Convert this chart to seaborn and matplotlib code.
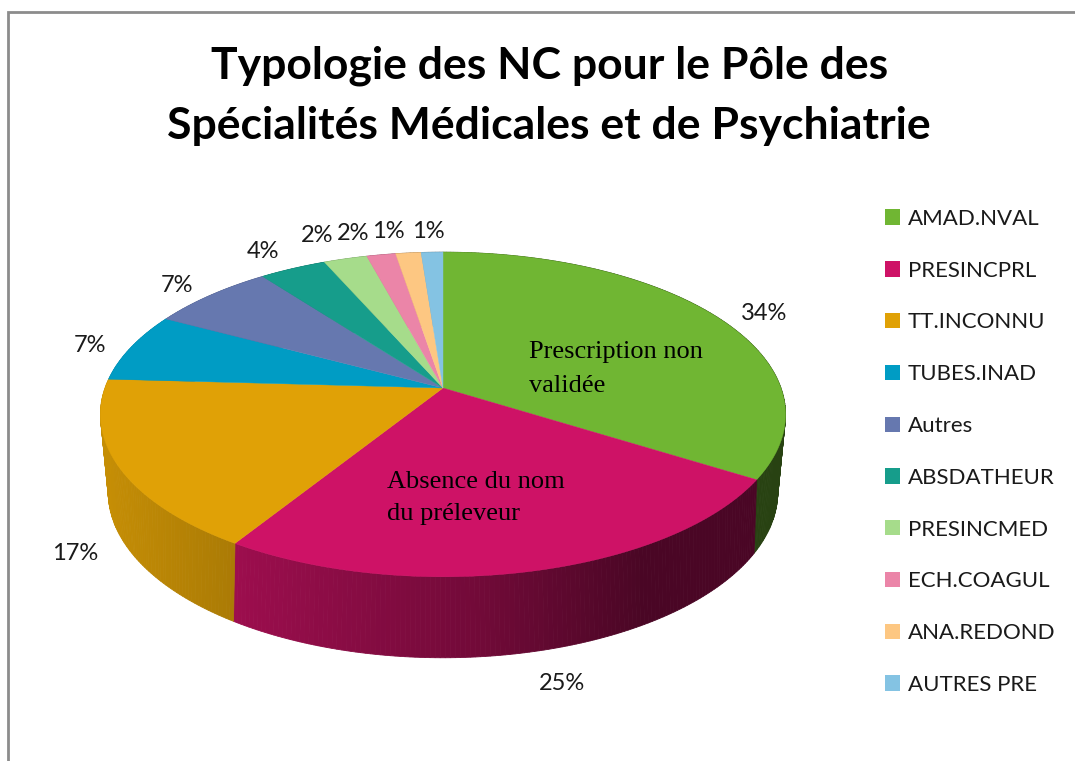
import numpy as np
import matplotlib
matplotlib.use("Agg")
import matplotlib.pyplot as plt
from matplotlib.patches import Patch
import seaborn as sns

# Values
categories = ["AMAD.NVAL", "PRESINCPRL", "TT.INCONNU", "TUBES.INAD", "Autres",
              "ABSDATHEUR", "PRESINCMED", "ECH.COAGUL", "ANA.REDOND", "AUTRES PRE"]
values = [33.9, 25.0, 17.0, 6.9, 6.9, 3.7, 2.4, 1.6, 1.4, 1.2]
pct_labels = ["34%", "25%", "17%", "7%", "7%", "4%", "2%", "2%", "1%", "1%"]
colors = ["#70B633", "#CE1266", "#E0A106", "#009CC4", "#6678AF",
          "#169D8B", "#A6DC8B", "#EB85A8", "#FDC782", "#84C3E3"]

sns.set_theme(style="white")
plt.rcParams["font.family"] = ["Lato", "DejaVu Sans"]
palette = sns.color_palette(colors)

fig = plt.figure(figsize=(10.75, 7.61), dpi=100)
ax = fig.add_axes([0, 0, 1, 1])
ax.set_xlim(0, 1075)
ax.set_ylim(761, 0)
ax.axis("off")

# chart area frame (only top and left are visible in the picture)
ax.plot([8, 8, 1075], [761, 12, 12], color="#8c8c8c", lw=2, solid_joinstyle="miter")


# perspective view of the pie: top face and bottom face
def project(theta, a, b, k, y0):
    u, v = np.sin(theta), np.cos(theta)
    w = 1 + k * v
    return 443 + a * u / w, y0 - b * v / w


def top_face(theta):
    return project(theta, 338, 158, 0.163, 388)


def bottom_face(theta):
    return project(theta, 328, 159, 0.2, 459)


def shade(x):
    return np.interp(x, [105, 237, 480, 640], [0.88, 0.76, 0.55, 0.36])


edges = 2 * np.pi * np.concatenate([[0], np.cumsum(values)]) / np.sum(values)

# side wall, one narrow band at a time so the light changes along it
for i, color in enumerate(palette):
    n = max(int(np.degrees(edges[i + 1] - edges[i]) / 0.7), 1)
    t = np.linspace(edges[i], edges[i + 1], n + 1)
    for t0, t1 in zip(t[:-1], t[1:]):
        x0, y0 = top_face(t0)
        x1, y1 = top_face(t1)
        x2, y2 = bottom_face(t1)
        x3, y3 = bottom_face(t0)
        c = tuple(np.array(color) * shade((x0 + x1) / 2))
        ax.fill([x0, x1, x2, x3], [y0, y1, y2, y3], color=c, lw=0.6)

# top face
for i, color in enumerate(palette):
    t = np.linspace(edges[i], edges[i + 1], 80)
    x, y = top_face(t)
    ax.fill(np.r_[443, x], np.r_[388, y], color=color, lw=0.3)

# title
ax.text(550, 66, "Typologie des NC pour le Pôle des", ha="center", va="center",
        fontsize=32, fontweight="bold", color="black")
ax.text(549, 126, "Spécialités Médicales et de Psychiatrie", ha="center", va="center",
        fontsize=32, fontweight="bold", color="black")

# data labels
label_x = [764, 562, 75, 90, 177, 263, 317, 353, 388, 428]
label_y = [314, 683, 553, 346, 286, 252, 236, 233, 231, 231]
for x, y, s in zip(label_x, label_y, pct_labels):
    ax.text(x, y, s, ha="center", va="center", fontsize=17, color="#1a1a1a")

# text boxes on the slices
for x, y, s in [(529, 352, "Prescription non"), (529, 386, "validée"),
                (387, 482, "Absence du nom"), (387, 514, "du préleveur")]:
    ax.text(x, y, s, ha="left", va="center", fontsize=19, color="black",
            family="Liberation Serif")

handles = [Patch(facecolor=c, edgecolor="none", label=n) for c, n in zip(palette, categories)]
ax.legend(handles=handles, loc="upper left", bbox_to_anchor=(876 / 1075, 1 - 200 / 761),
          frameon=False, fontsize=16, labelcolor="#1a1a1a", labelspacing=1.43,
          handlelength=0.68, handleheight=0.68, handletextpad=0.36,
          borderpad=0.4, borderaxespad=0)

fig.savefig("out.png", dpi=100)
